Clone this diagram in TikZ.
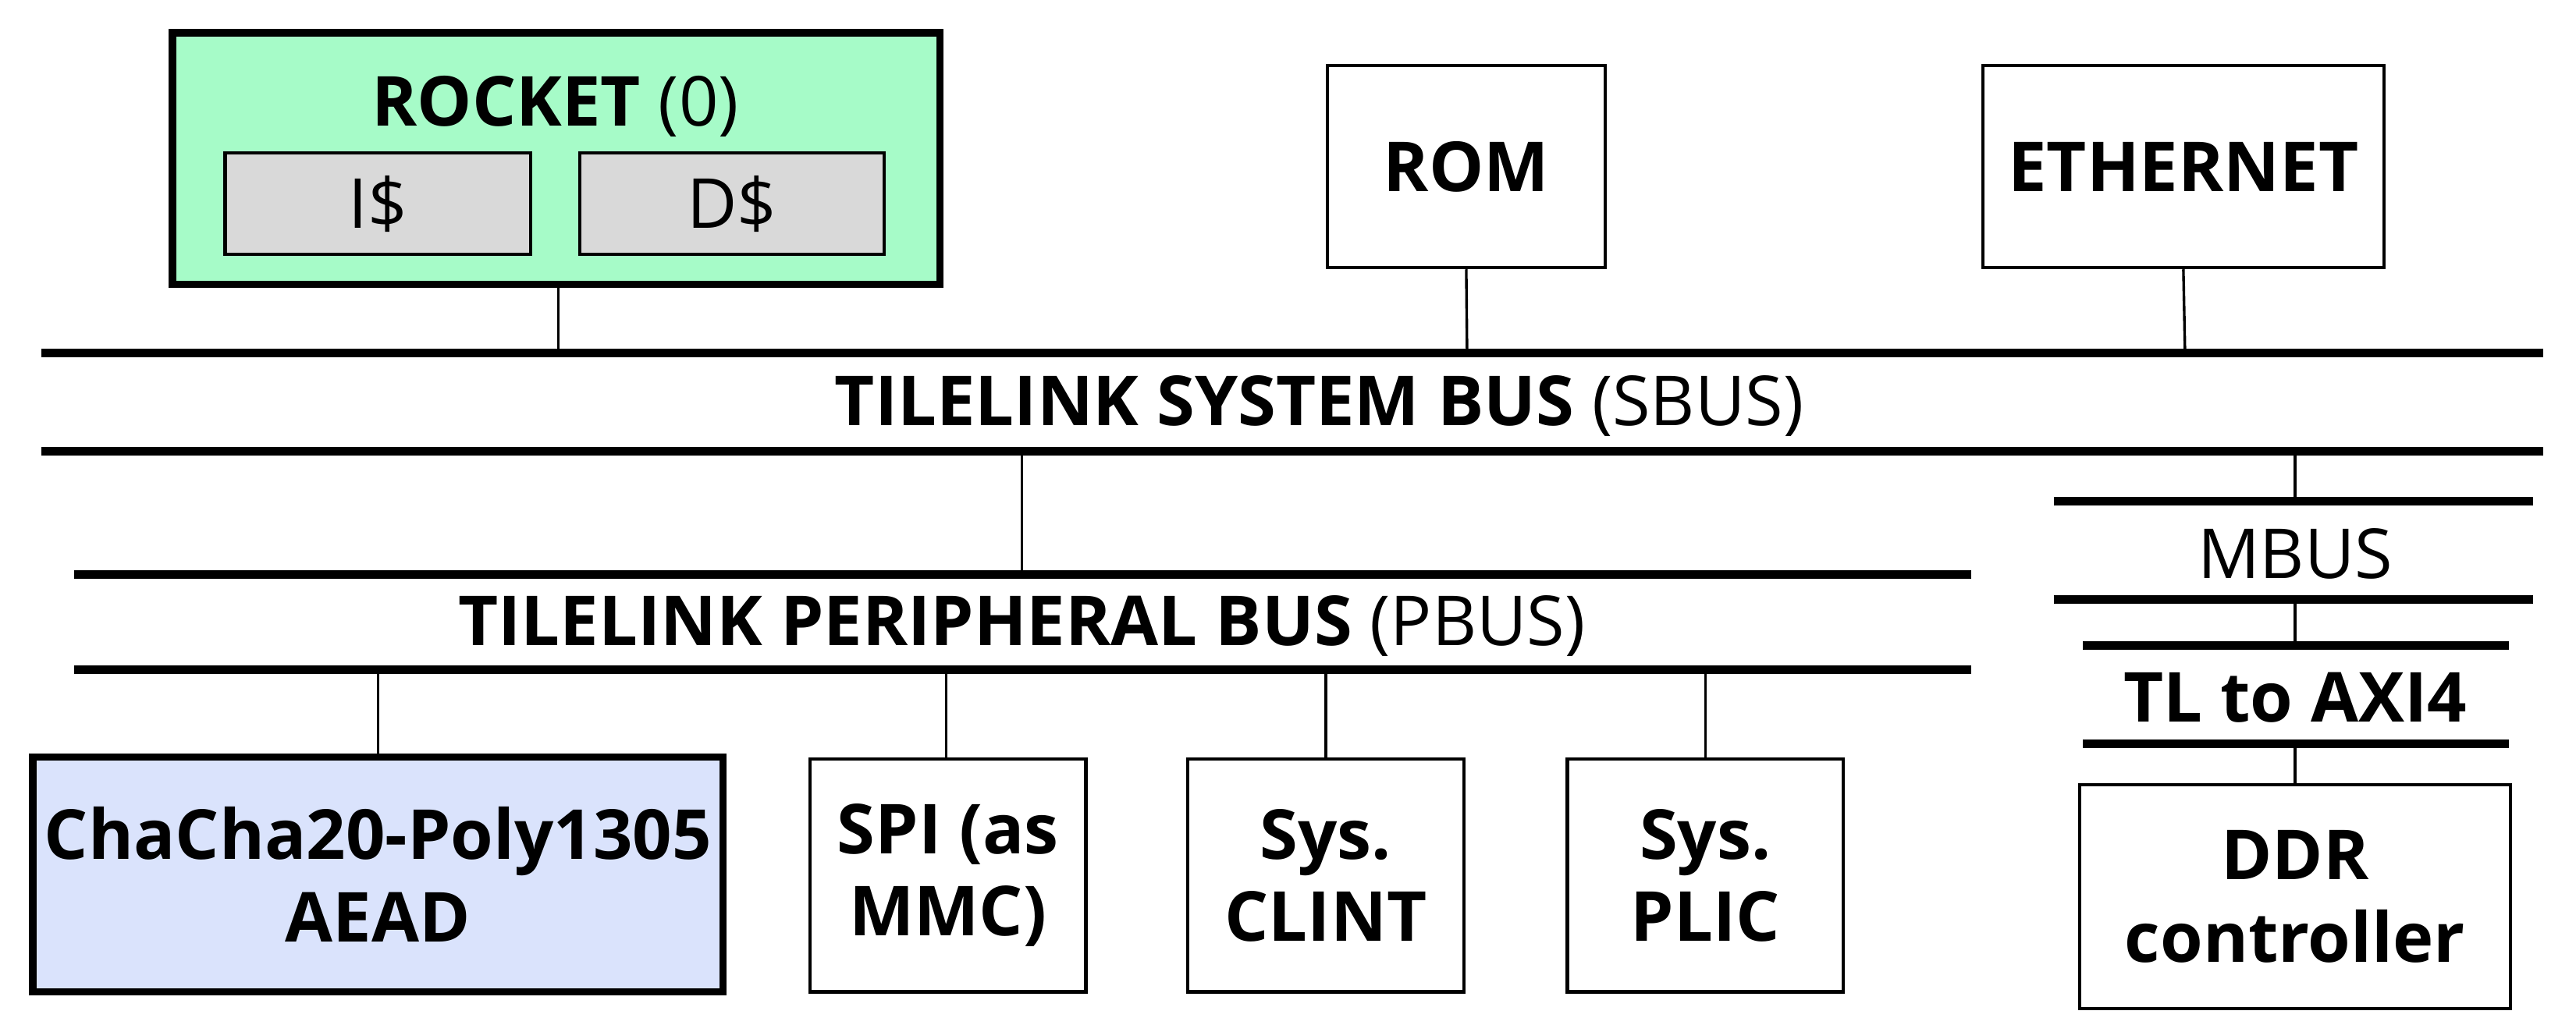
\documentclass[tikz,border=0pt]{standalone}
\usepackage{fontspec}
\setmainfont{Open Sans}
\begin{document}
\begin{tikzpicture}[x=0.5pt,y=-0.5pt,
  box/.style={draw,line width=1pt,align=center,inner sep=0pt,font=\fontsize{21}{25}\selectfont\bfseries},
  tbox/.style={box,line width=2.2pt},
  bus/.style={line width=2.6pt},
  wire/.style={line width=0.8pt},
  lab/.style={font=\fontsize{21}{25}\selectfont}]
\useasboundingbox (0,0) rectangle (1568,624);
\definecolor{rg}{HTML}{A6FBC8}\definecolor{cg}{HTML}{D9D9D9}\definecolor{cb}{HTML}{DAE3FC}
% boxes
\node[tbox,fill=rg,minimum width=233.5pt,minimum height=76.5pt] (rocket) at (338.5,96.5) {};
\node[lab] (rtitle) at (338,65) {\textbf{ROCKET} (0)};
\node[draw,line width=1pt,fill=cg,inner sep=0pt,minimum width=93pt,minimum height=31pt,lab] (ic) at (230,124) {I\$};
\node[draw,line width=1pt,fill=cg,inner sep=0pt,minimum width=92.5pt,minimum height=31pt,lab] (dc) at (445.5,124) {D\$};
\node[box,minimum width=84.5pt,minimum height=61.5pt] (rom) at (892.5,101.5) {ROM};
\node[box,minimum width=122pt,minimum height=61.5pt] (eth) at (1329,101.5) {ETHERNET};
% SBUS
\coordinate (s1a) at (25,215); \coordinate (s1b) at (1548,215);
\coordinate (s2a) at (25,275); \coordinate (s2b) at (1548,275);
\draw[bus] (s1a) -- (s1b); \draw[bus] (s2a) -- (s2b);
\node[lab] (sbus) at (803,247) {\textbf{TILELINK SYSTEM BUS} (SBUS)};
\coordinate (r0) at (340,215); \coordinate (m0) at (893,215); \coordinate (e0) at (1330,215);
\draw[wire] (rocket.south -| r0) -- (r0);
\draw[wire] (rom.south) -- (m0);
\draw[wire] (eth.south) -- (e0);
% PBUS
\draw[bus] (45,350) coordinate (p1a) -- (1200,350) coordinate (p1b);
\draw[bus] (45,408) coordinate (p2a) -- (1200,408) coordinate (p2b);
\node[lab] (pbus) at (622,381) {\textbf{TILELINK PERIPHERAL BUS} (PBUS)};
\coordinate (pt) at (622,275); \coordinate (pb) at (622,350);
\draw[wire] (pt) -- (pb);
% MBUS
\draw[bus] (1250,305) coordinate (m1a) -- (1542,305) coordinate (m1b);
\draw[bus] (1250,365) coordinate (m2a) -- (1542,365) coordinate (m2b);
\node[lab] (mbus) at (1397,337) {MBUS};
\coordinate (mt) at (1397,275); \coordinate (mb) at (1397,305);
\draw[wire] (mt) -- (mb);
% TL to AXI4
\draw[bus] (1268,393) coordinate (a1a) -- (1527,393) coordinate (a1b);
\draw[bus] (1268,453) coordinate (a2a) -- (1527,453) coordinate (a2b);
\node[lab,font=\fontsize{21}{25}\selectfont\bfseries] (axi) at (1397,425) {TL to AXI4};
\coordinate (at) at (1397,365); \coordinate (ab) at (1397,393);
\draw[wire] (at) -- (ab);
\node[box,minimum width=131pt,minimum height=68pt] (ddr) at (1397,546) {DDR\\controller};
\coordinate (dt) at (1397,453);
\draw[wire] (dt) -- (ddr.north);
% peripherals
\node[tbox,fill=cb,minimum width=210pt,minimum height=71.5pt] (cha) at (230,532.5) {ChaCha20-Poly1305\\AEAD};
\node[box,minimum width=84pt,minimum height=71pt] (spi) at (577,533) {SPI (as\\MMC)};
\node[box,minimum width=84pt,minimum height=71pt] (clint) at (807,533) {Sys.\\CLINT};
\node[box,minimum width=84pt,minimum height=71pt] (plic) at (1038,533) {Sys.\\PLIC};
\foreach \n/\x in {cha/230,spi/576,clint/807,plic/1038}{
  \coordinate (c\n) at (\x,408);
  \draw[wire] (c\n) -- (\n.north -| c\n);}
\end{tikzpicture}
\end{document}
